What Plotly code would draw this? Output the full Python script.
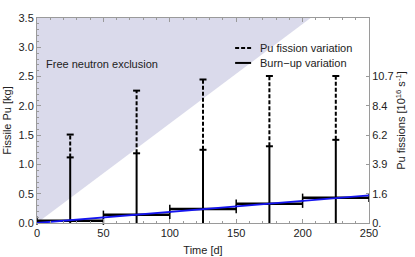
import plotly.graph_objects as go

# ---- data ----
times = [25, 75, 125, 175, 225]
pu_mass = [0.04, 0.14, 0.24, 0.33, 0.43]
burnup_half_width = [25, 25, 25, 25, 25]
burnup_upper = [1.12, 1.19, 1.25, 1.31, 1.42]
burnup_lower = [-1.04, -0.91, -0.77, -0.65, -0.56]
fission_upper = [1.51, 2.26, 2.45, 2.51, 2.51]
trend_time = [0, 250]
trend_mass = [0.0, 0.47]
excl_time = [0, 206]
excl_mass = [0.0, 3.5]
x_ticks = [0, 50, 100, 150, 200, 250]
y_ticks = [0.0, 0.5, 1.0, 1.5, 2.0, 2.5, 3.0, 3.5]
y_tick_text = ["0.0", "0.5", "1.0", "1.5", "2.0", "2.5", "3.0", "3.5"]
fiss_tick_pos = [0.0, 0.5, 1.0, 1.5, 2.0, 2.5]
fiss_tick_text = ["0.", "1.6", "3.9", "6.2", "8.4", "10.7"]

FONT = "Liberation Sans, Arial, sans-serif"
fig = go.Figure()

# exclusion region (above boundary line)
fig.add_trace(go.Scatter(
    x=excl_time + [excl_time[0]], y=excl_mass + [excl_mass[-1]],
    fill="toself", fillcolor="#dadaeb", line=dict(width=0),
    mode="lines", hoverinfo="skip", showlegend=False))

# dashed Pu fission variation
dx, dy = [], []
for t, u, f in zip(times, burnup_upper, fission_upper):
    dx += [t, t, None]
    dy += [u, f, None]
fig.add_trace(go.Scatter(x=dx, y=dy, mode="lines",
                         line=dict(color="black", width=2, dash="4px,2px"),
                         showlegend=False, hoverinfo="skip"))
fig.add_trace(go.Scatter(x=times, y=fission_upper, mode="markers",
                         marker=dict(symbol="line-ew", size=5,
                                     line=dict(color="black", width=2)),
                         showlegend=False, hoverinfo="skip"))

# solid burn-up vertical
sx, sy = [], []
for t, lo, u in zip(times, burnup_lower, burnup_upper):
    sx += [t, t, None]
    sy += [lo, u, None]
fig.add_trace(go.Scatter(x=sx, y=sy, mode="lines",
                         line=dict(color="black", width=2),
                         showlegend=False, hoverinfo="skip"))
fig.add_trace(go.Scatter(x=times, y=burnup_upper, mode="markers",
                         marker=dict(symbol="line-ew", size=5,
                                     line=dict(color="black", width=2)),
                         showlegend=False, hoverinfo="skip"))

# horizontal burn-up bars
hx, hy = [], []
for t, m, w in zip(times, pu_mass, burnup_half_width):
    hx += [t - w, t + w, None]
    hy += [m, m, None]
fig.add_trace(go.Scatter(x=hx, y=hy, mode="lines",
                         line=dict(color="black", width=2.5),
                         showlegend=False, hoverinfo="skip"))
cx = [t - w for t, w in zip(times, burnup_half_width)] + [t + w for t, w in zip(times, burnup_half_width)]
cy = pu_mass + pu_mass
fig.add_trace(go.Scatter(x=cx, y=cy, mode="markers",
                         marker=dict(symbol="line-ns", size=6,
                                     line=dict(color="black", width=1.5)),
                         showlegend=False, hoverinfo="skip", cliponaxis=False))

# trend line
fig.add_trace(go.Scatter(x=trend_time, y=trend_mass, mode="lines",
                         line=dict(color="#1515f0", width=1.8),
                         showlegend=False, hoverinfo="skip"))

# right axis dummy
fig.add_trace(go.Scatter(x=[None], y=[None], yaxis="y2", showlegend=False))

axis_common = dict(showline=True, linecolor="#9a9a9a", linewidth=1,
                   ticks="inside", tickcolor="#9a9a9a", showgrid=False,
                   zeroline=False, tickfont=dict(family=FONT, size=11, color="#222"))

fig.update_layout(
    width=415, height=257,
    margin=dict(l=37, r=46, t=18, b=34),
    paper_bgcolor="white", plot_bgcolor="white",
    font=dict(family=FONT, size=11, color="#222"),
    xaxis=dict(range=[0, 250], tickvals=x_ticks, ticklen=4, mirror="ticks",
               minor=dict(dtick=10, ticklen=2, ticks="inside", tickcolor="#9a9a9a"),
               title=dict(text="Time [d]", font=dict(family=FONT, size=11), standoff=8),
               automargin=False, **axis_common),
    yaxis=dict(range=[0, 3.5], tickvals=y_ticks, ticktext=y_tick_text, ticklen=4,
               mirror=True,
               minor=dict(dtick=0.1, ticklen=2, ticks="inside", tickcolor="#9a9a9a"),
               title=dict(text="Fissile Pu [kg]", font=dict(family=FONT, size=11), standoff=4),
               automargin=False, **axis_common),
    yaxis2=dict(range=[0, 3.5], overlaying="y", side="right",
                tickvals=fiss_tick_pos, ticktext=fiss_tick_text, ticklen=3,
                title=dict(text="Pu fissions [10<sup>16</sup> s<sup>-1</sup>]",
                           font=dict(family=FONT, size=11), standoff=4),
                automargin=False, **axis_common),
    annotations=[
        dict(x=(44-36.7)/332.3, y=(223.3-64)/205.3, xref="paper", yref="paper",
             text="Free neutron exclusion",
             showarrow=False, xanchor="left", yanchor="middle",
             font=dict(family=FONT, size=11, color="#222")),
        dict(x=(258-36.7)/332.3, y=(223.3-48)/205.3, xref="paper", yref="paper",
             text="Pu fission variation", showarrow=False, xanchor="left", yanchor="middle",
             font=dict(family=FONT, size=11, color="#222")),
        dict(x=(258-36.7)/332.3, y=(223.3-63)/205.3, xref="paper", yref="paper",
             text="Burn\u2212up variation", showarrow=False, xanchor="left", yanchor="middle",
             font=dict(family=FONT, size=11, color="#222")),
    ],
    shapes=[
        dict(type="line", xref="paper", yref="paper",
             x0=(235-36.7)/332.3, x1=(251-36.7)/332.3,
             y0=(223.3-48)/205.3, y1=(223.3-48)/205.3,
             line=dict(color="black", width=2, dash="4px,2px")),
        dict(type="line", xref="paper", yref="paper",
             x0=(235-36.7)/332.3, x1=(251-36.7)/332.3,
             y0=(223.3-63)/205.3, y1=(223.3-63)/205.3,
             line=dict(color="black", width=2)),
    ],
)

fig.write_html("out.html", config={"displayModeBar": False},
               post_script="document.body.style.margin='0';document.body.style.overflow='hidden';")
